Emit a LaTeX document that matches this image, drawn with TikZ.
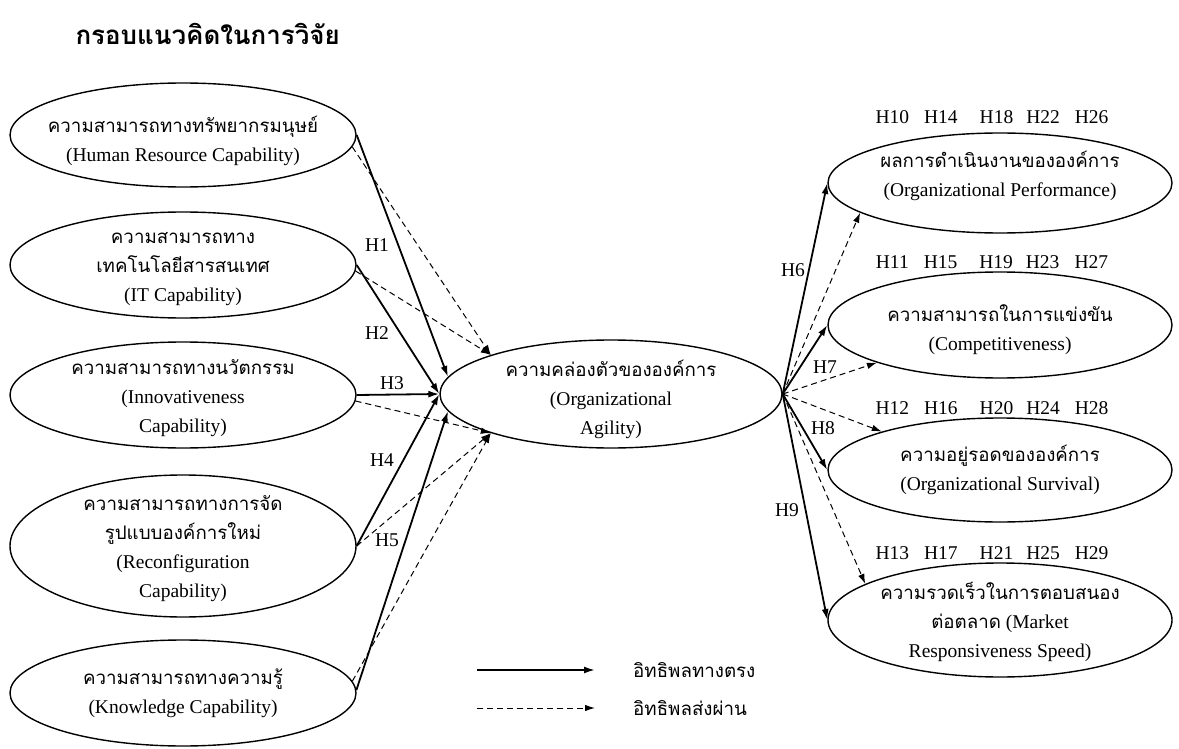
\documentclass[tikz,border=0pt]{standalone}
\usepackage{fontspec}
\setmainfont{Liberation Serif}
\newfontfamily\thaif[Script=Thai, Scale=0.96]{Loma}
\usetikzlibrary{shapes.geometric, arrows.meta}

\tikzset{
	factor/.style={ellipse, draw, line width=1.4pt, inner sep=0pt, minimum width=346pt, minimum height=106pt},
	txt/.style={align=center, font=\fontsize{19.5}{29}\selectfont, inner sep=0pt},
	direct/.style={-{Latex[length=11pt, width=7pt]}, line width=1.8pt},
	indirect/.style={-{Latex[length=10pt, width=6.5pt]}, line width=1pt, dash pattern=on 6pt off 4pt},
	hlab/.style={font=\fontsize{19.5}{22}\selectfont, inner sep=1pt},
}

\begin{document}
\begin{tikzpicture}[x=1pt, y=-1pt]
	\useasboundingbox (0,0) rectangle (1179,749);
	\node[anchor=west, font=\thaif\bfseries\fontsize{27}{32}\selectfont] (title) at (72,34) {กรอบแนวคิดในการวิจัย};

	% independent variables
	\node[factor, minimum height=104pt, label={[txt, yshift=-6pt]center:{\thaif ความสามารถทางทรัพยากรมนุษย์}\\(Human Resource Capability)}] (hr) at (183,135) {};
	\node[factor, label={[txt, yshift=-4pt]center:{\thaif ความสามารถทาง}\\{\thaif เทคโนโลยีสารสนเทศ}\\(IT Capability)}] (itc) at (183,265) {};
	\node[factor, label={[txt, yshift=-3pt]center:{\thaif ความสามารถทางนวัตกรรม}\\(Innovativeness\\Capability)}] (inn) at (183,395) {};
	\node[factor, minimum height=142pt, label={[txt, yshift=-3pt]center:{\thaif ความสามารถทางการจัด}\\{\thaif รูปแบบองค์การใหม่}\\(Reconfiguration\\Capability)}] (rc) at (183,546) {};
	\node[factor, label={[txt]center:{\thaif ความสามารถทางความรู้}\\(Knowledge Capability)}] (kc) at (183,693) {};

	% mediator
	\node[factor, minimum width=342pt, minimum height=108pt, label={[txt, yshift=-5pt]center:{\thaif ความคล่องตัวขององค์การ}\\(Organizational\\Agility)}] (oa) at (611,394) {};

	% outcomes
	\node[factor, minimum width=344pt, minimum height=100pt, label={[txt, yshift=7pt]center:{\thaif ผลการดำเนินงานขององค์การ}\\(Organizational Performance)}] (op) at (1000,183) {};
	\node[factor, minimum width=344pt, label={[txt, yshift=-5pt]center:{\thaif ความสามารถในการแข่งขัน}\\(Competitiveness)}] (cp) at (1000,325) {};
	\node[factor, minimum width=344pt, minimum height=104pt, label={[txt]center:{\thaif ความอยู่รอดขององค์การ}\\(Organizational Survival)}] (os) at (1000,470) {};
	\node[factor, minimum width=344pt, minimum height=114pt, label={[txt, yshift=-2pt]center:{\thaif ความรวดเร็วในการตอบสนอง}\\{\thaif ต่อตลาด} (Market\\Responsiveness Speed)}] (ms) at (1000,620) {};

	% hypothesis rows
	\node[hlab] (h10) at (992,117) {H10\hspace{15pt}H14\hspace{22pt}H18\hspace{13pt}H22\hspace{15pt}H26};
	\node[hlab] (h11) at (992,262) {H11\hspace{15pt}H15\hspace{22pt}H19\hspace{13pt}H23\hspace{15pt}H27};
	\node[hlab] (h12) at (992,408) {H12\hspace{15pt}H16\hspace{22pt}H20\hspace{13pt}H24\hspace{15pt}H28};
	\node[hlab] (h13) at (992,553) {H13\hspace{15pt}H17\hspace{22pt}H21\hspace{13pt}H25\hspace{15pt}H29};

	% direct paths into agility
	\draw[direct] (hr.east) -- (oa.174);
	\draw[direct] (itc.east) -- (oa.west);
	\draw[direct] (inn.east) -- (oa.west);
	\draw[direct] (rc.east) -- (oa.west);
	\draw[direct] (kc.1) -- (oa.186);
	% mediated paths
	\draw[indirect] (hr.-4) -- (oa.162);
	\draw[indirect] (itc.-2) -- (oa.162);
	\draw[indirect] (inn.-2) -- (oa.198);
	\draw[indirect] (rc.east) -- (oa.198);
	\draw[indirect] (kc.4) -- (oa.198);

	% paths out of agility
	\draw[direct] (oa.east) -- (op.west);
	\draw[indirect] (oa.east) -- (op.192);
	\draw[direct] (oa.east) -- (cp.west);
	\draw[indirect] (oa.east) -- (cp.197);
	\draw[indirect] (oa.east) -- (os.162);
	\draw[direct] (oa.east) -- (os.west);
	\draw[indirect] (oa.east) -- (ms.165);
	\draw[direct] (oa.east) -- (ms.west);

	% path labels
	\node[hlab] (l1) at (377,245) {H1};
	\node[hlab] (l2) at (377,333) {H2};
	\node[hlab] (l3) at (392,383) {H3};
	\node[hlab] (l4) at (382,460) {H4};
	\node[hlab] (l5) at (387,540) {H5};
	\node[hlab] (l6) at (793,270) {H6};
	\node[hlab] (l7) at (825,367) {H7};
	\node[hlab] (l8) at (823,428) {H8};
	\node[hlab] (l9) at (787,510) {H9};

	% legend
	\coordinate (d1) at (477,670);
	\coordinate (d2) at (595,670);
	\coordinate (m1) at (477,708);
	\coordinate (m2) at (595,708);
	\draw[direct] (d1) -- (d2);
	\draw[indirect] (m1) -- (m2);
	\node[txt, anchor=west] (dtxt) at (633,670) {\thaif อิทธิพลทางตรง};
	\node[txt, anchor=west] (mtxt) at (633,708) {\thaif อิทธิพลส่งผ่าน};
\end{tikzpicture}
\end{document}
